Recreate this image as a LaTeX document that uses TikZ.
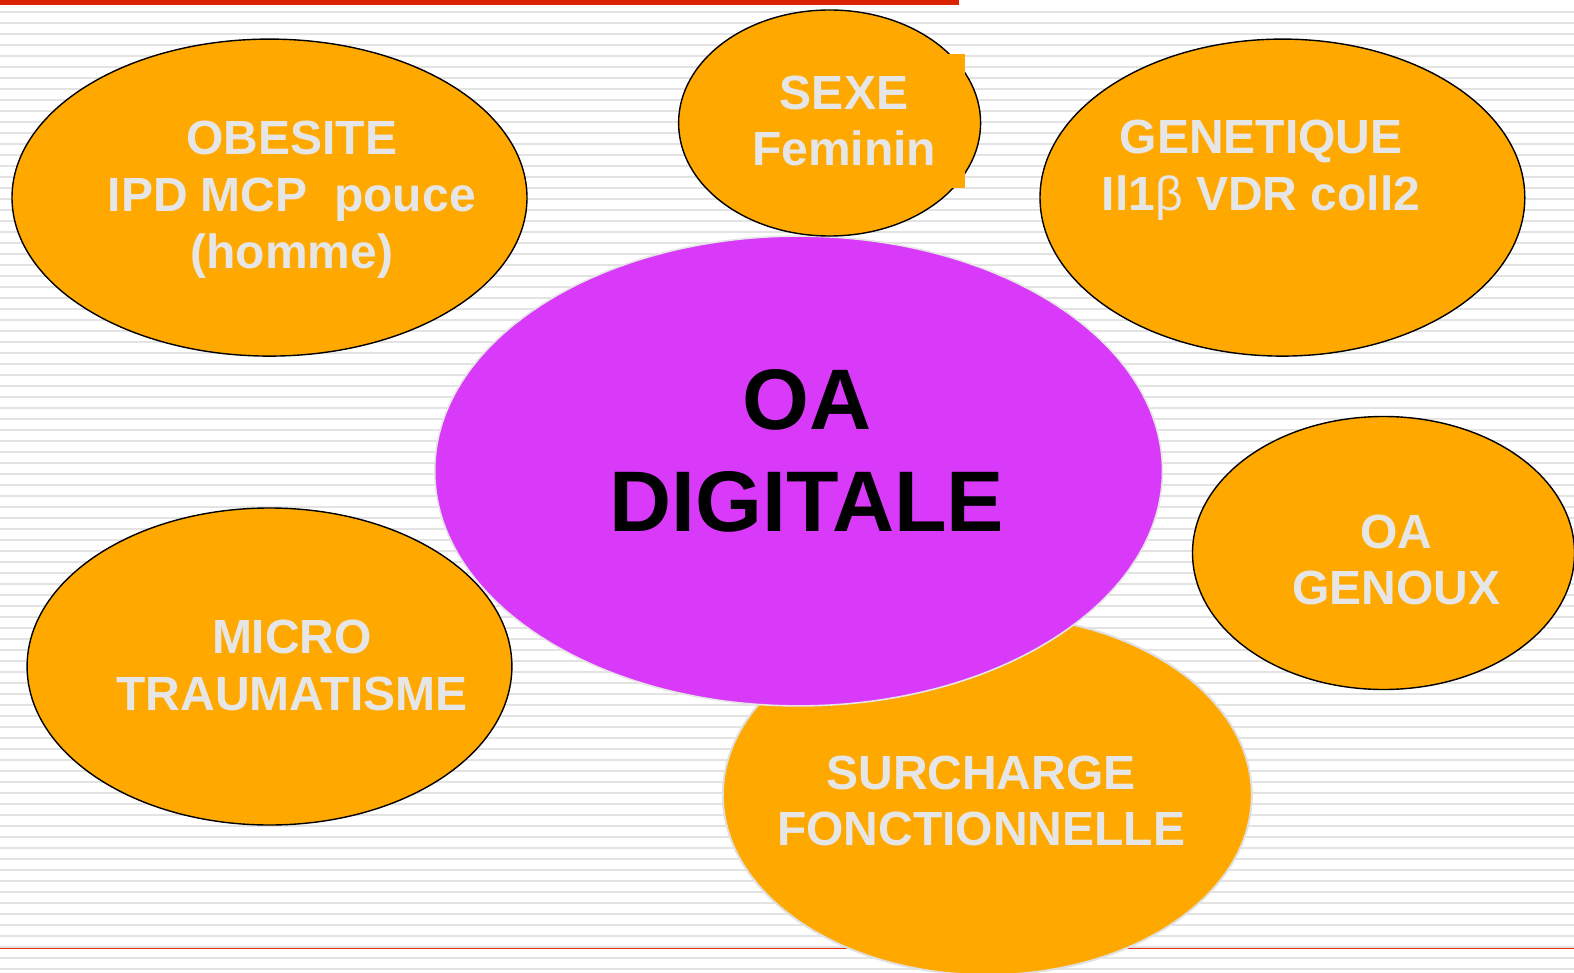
\documentclass[tikz,border=0pt]{standalone}
\usepackage{fontspec}
\setmainfont{Liberation Sans}
\usetikzlibrary{shapes.geometric}
\definecolor{stripe}{RGB}{227,227,227}
\definecolor{topred}{RGB}{218,33,0}
\definecolor{linered}{RGB}{235,40,20}
\definecolor{risk}{RGB}{255,168,0}
\definecolor{oacol}{RGB}{217,58,250}
\definecolor{label}{RGB}{230,230,230}

\tikzset{
  factor/.style={ellipse, fill=risk, draw=black, line width=0.7pt, inner sep=0pt},
  factortext/.style={align=center, text=label, font=\fontsize{24}{28.4}\selectfont\bfseries},
}

\begin{document}
\begin{tikzpicture}[x=0.5pt, y=-0.5pt]
  \useasboundingbox (0,0) rectangle (1574,973);
  \fill[white] (0,0) rectangle (1574,973);

  % striped background
  \foreach \k in {0,...,87}
    \fill[stripe] (0,{11+11*\k}) rectangle (1574,{13.3+11*\k});
  \fill[topred] (0,0) rectangle (959,5);
  \draw[linered, line width=0.5pt] (0,948.3) -- (1574,948.3);

  \node[factor, draw=black!12, line width=1pt, minimum width=264.5pt, minimum height=180pt] (surcharge) at (987.3,795) {};
  \node[ellipse, fill=oacol, draw=black!10, line width=0.8pt, inner sep=0pt,
        minimum width=363.9pt, minimum height=234.9pt] (oa) at (798.6,471) {};

  \node[factor, minimum width=257.5pt, minimum height=158.5pt] (obesite) at (269.5,197.6) {};
  \node[factor, minimum width=151pt, minimum height=113pt] (sexe) at (829.6,123) {};
  \node[factor, minimum width=242.4pt, minimum height=158.5pt] (genetique) at (1282.4,197.6) {};
  \node[factor, minimum width=191pt, minimum height=136.5pt] (genoux) at (1383.5,553) {};
  \node[factor, minimum width=242.4pt, minimum height=158.5pt] (micro) at (269.5,666.5) {};

  \node[factortext] (obesite-txt) at (291.7,200) {OBESITE\\IPD MCP\ \ pouce\\(homme)};
  \node[factortext, fill=risk, inner sep=0pt, minimum width=121pt, minimum height=67pt] (sexe-txt) at (844,121) {SEXE\\Feminin};
  \node[factortext] (genetique-txt) at (1261,170.6) {GENETIQUE\\Il1{\mdseries β} VDR coll2};
  \node[factortext] (genoux-txt) at (1396,560) {OA\\GENOUX};
  \node[factortext] (micro-txt) at (292,665.5) {MICRO\\TRAUMATISME};
  \node[factortext] (surcharge-txt) at (981,801) {SURCHARGE\\FONCTIONNELLE};

  \node[align=center, font=\fontsize{43}{51}\selectfont\bfseries] (oa-txt) at (806.8,451) {OA\\DIGITALE};
\end{tikzpicture}
\end{document}
